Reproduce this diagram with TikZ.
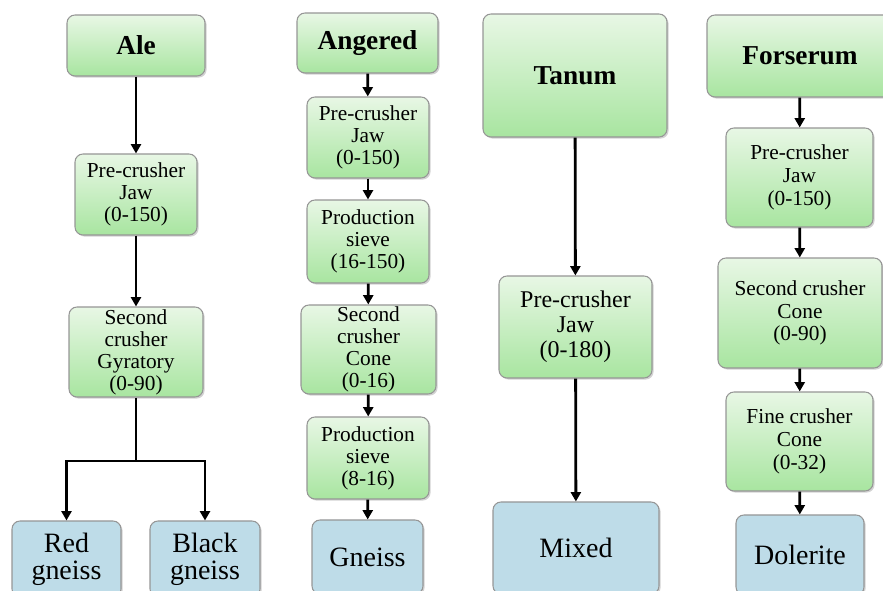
\documentclass[tikz,border=0pt]{standalone}
\usepackage{fontspec}
\setmainfont{Liberation Serif}
\usepackage{xcolor}
\usepackage{tikz}
\usetikzlibrary{arrows.meta}
\usetikzlibrary{shadows}

\definecolor{greenTop}{RGB}{232,247,229}
\definecolor{greenBot}{RGB}{168,229,160}
\definecolor{rockBlue}{RGB}{190,220,232}
\definecolor{edgeGray}{RGB}{150,150,150}

\tikzset{
  wh/.style 2 args = {minimum width=#1*0.75pt, minimum height=#2*0.75pt},
  stage/.style = {draw=edgeGray, line width=0.8pt, rounded corners=6pt, top color=greenTop, bottom color=greenBot, align=center, inner sep=1pt, drop shadow={shadow xshift=1.2pt, shadow yshift=-1.2pt, opacity=0.35}},
  site/.style = {stage, font=\fontsize{20.5}{22}\selectfont\bfseries},
  crusher/.style = {stage, font=\fontsize{16}{16.5}\selectfont},
  rock/.style = {draw=edgeGray, line width=0.8pt, rounded corners=6pt, fill=rockBlue, align=center, inner sep=1pt, font=\fontsize{21}{20.5}\selectfont, drop shadow={shadow xshift=1.2pt, shadow yshift=-1.2pt, opacity=0.35}},
  flow/.style = {-{Triangle[length=7pt,width=7.5pt]}, line width=2.1pt}
}

\begin{document}
\begin{tikzpicture}[x=0.75pt,y=-0.75pt]
    \clip (0,0) rectangle (883,591);

    % Ale
    \node[site, wh={138}{61}] (ale) at (136,45.5) {Ale};
    \node[crusher, wh={122}{81}] (aleJaw) at (136,194.5) {Pre-crusher\\Jaw\\(0-150)};
    \node[crusher, wh={134}{90}] (aleGyratory) at (136,352) {Second\\crusher\\Gyratory\\(0-90)};
    \node[rock, wh={109}{76}] (redGneiss) at (66.5,559) {Red\\gneiss};
    \node[rock, wh={110}{76}] (blackGneiss) at (205,559) {Black\\gneiss};
    \coordinate (aleSplit) at (136,461);

    \draw [flow] (ale) -- (aleJaw);
    \draw [flow] (aleJaw) -- (aleGyratory);
    \draw [line width=2.1pt] (aleGyratory) -- (aleSplit);
    \draw [flow] (aleSplit) -| (redGneiss);
    \draw [flow] (aleSplit) -| (blackGneiss);

    % Angered
    \node[site, wh={141}{60}] (angered) at (367.5,43) {Angered};
    \node[crusher, wh={122}{81}] (angeredJaw) at (368,137.5) {Pre-crusher\\Jaw\\(0-150)};
    \node[crusher, wh={122}{83}] (angeredSieveA) at (368,241.5) {Production\\sieve\\(16-150)};
    \node[crusher, wh={135}{89}] (angeredCone) at (368.5,349.5) {Second\\crusher\\Cone\\(0-16)};
    \node[crusher, wh={122}{82}] (angeredSieveB) at (368,458) {Production\\sieve\\(8-16)};
    \node[rock, wh={111}{74}] (gneiss) at (367.5,557) {Gneiss};

    \draw [flow] (angered) -- (angeredJaw);
    \draw [flow] (angeredJaw) -- (angeredSieveA);
    \draw [flow] (angeredSieveA) -- (angeredCone);
    \draw [flow] (angeredCone) -- (angeredSieveB);
    \draw [flow] (angeredSieveB) -- (gneiss);

    % Tanum
    \node[site, wh={184}{123}] (tanum) at (575,75.5) {Tanum};
    \node[stage, wh={153}{102}, font=\fontsize{18}{18.75}\selectfont] (tanumJaw) at (575.5,327) {Pre-crusher\\Jaw\\(0-180)};
    \node[rock, wh={166}{92}] (mixed) at (576,548) {Mixed};

    \draw [flow] (tanum) -- (tanumJaw);
    \draw [flow] (tanumJaw) -- (mixed);

    % Forserum
    \node[site, wh={186}{82}] (forserum) at (800,56) {Forserum};
    \node[crusher, wh={147}{99}, font=\fontsize{16}{17}\selectfont] (forserumJaw) at (799.5,177.5) {Pre-crusher\\Jaw\\(0-150)};
    \node[crusher, wh={164}{110}, font=\fontsize{16}{17}\selectfont] (forserumCone) at (800,313) {Second crusher\\Cone\\(0-90)};
    \node[crusher, wh={147}{99}, font=\fontsize{16}{17}\selectfont] (forserumFine) at (799.5,441.5) {Fine crusher\\Cone\\(0-32)};
    \node[rock, wh={128}{80}] (dolerite) at (800,555) {Dolerite};

    \draw [flow] (forserum) -- (forserumJaw);
    \draw [flow] (forserumJaw) -- (forserumCone);
    \draw [flow] (forserumCone) -- (forserumFine);
    \draw [flow] (forserumFine) -- (dolerite);
\end{tikzpicture}
\end{document}
